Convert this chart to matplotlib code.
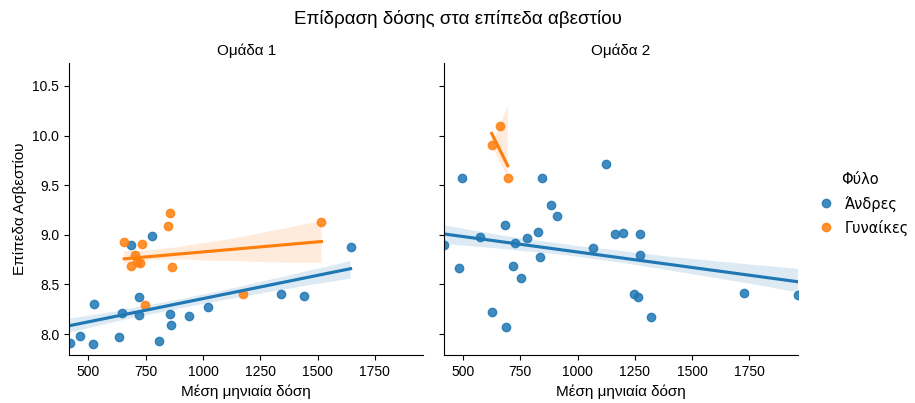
import numpy as np
import pandas as pd
import matplotlib
matplotlib.use("Agg")
import matplotlib.pyplot as plt
import seaborn as sns
from matplotlib.lines import Line2D

plt.rcParams['font.family'] = ['Liberation Sans', 'DejaVu Sans']

# Ομάδα 1
dose_g1_men = [420, 464, 519, 522, 635, 648, 686, 722, 722, 776, 808, 856,
               862, 940, 1022, 1339, 1440, 1644]
ca_g1_men = [7.91, 7.98, 7.905, 8.30, 7.97, 8.21, 8.895, 8.37, 8.19, 8.99,
             7.93, 8.20, 8.09, 8.18, 8.27, 8.40, 8.38, 8.88]
dose_g1_women = [656, 702, 686, 711, 733, 725, 747, 846, 856, 866, 1173, 1517]
ca_g1_women = [8.93, 8.80, 8.685, 8.73, 8.905, 8.72, 8.29, 9.09, 9.22, 8.68,
               8.40, 9.125]

# Ομάδα 2
dose_g2_men = [415, 481, 496, 576, 628, 685, 687, 719, 725, 751, 780, 828,
               837, 843, 882, 911, 1066, 1126, 1165, 1196, 1244, 1263, 1273,
               1272, 1320, 1728, 1962]
ca_g2_men = [8.90, 8.67, 9.575, 8.976, 8.22, 9.095, 8.075, 8.687, 8.915, 8.57,
             8.97, 9.03, 8.78, 9.57, 9.30, 9.19, 8.87, 9.71, 9.01, 9.02, 8.40,
             8.37, 9.01, 8.80, 8.17, 8.41, 8.39]
dose_g2_women = [625, 660, 695]
ca_g2_women = [9.90, 10.10, 9.575]

groups = ['Ομάδα 1', 'Ομάδα 2']
sexes = ['Άνδρες', 'Γυναίκες']
colors = ['#1f77b4', '#ff7f0e']

parts = []
for grp, sx, d, c in [
    (groups[0], sexes[0], dose_g1_men, ca_g1_men),
    (groups[0], sexes[1], dose_g1_women, ca_g1_women),
    (groups[1], sexes[0], dose_g2_men, ca_g2_men),
    (groups[1], sexes[1], dose_g2_women, ca_g2_women),
]:
    parts.append(pd.DataFrame({'dose': d, 'ca': c, 'group': grp, 'sex': sx}))
df = pd.concat(parts, ignore_index=True)

g = sns.lmplot(data=df, x='dose', y='ca', hue='sex', col='group',
               hue_order=sexes, col_order=groups, palette=colors,
               legend=False, height=4, aspect=1, ci=50, seed=3,
               scatter_kws={'alpha': 0.85})
g.set_titles("{col_name}", size=11)
g.set_axis_labels("Μέση μηνιαία δόση", "Επίπεδα Ασβεστίου", fontsize=11)
for ax in g.axes.flat:
    ax.set_xlim(415, 1962)
    ax.set_ylim(7.79, 10.73)
    ax.set_xticks([500, 750, 1000, 1250, 1500, 1750])
    ax.set_yticks([8.0, 8.5, 9.0, 9.5, 10.0, 10.5])
    ax.tick_params(labelsize=10)

fig = g.figure
fig.set_size_inches(9.15, 4.03)
fig.subplots_adjust(left=69 / 915, right=798 / 915, bottom=1 - 355 / 403,
                    top=1 - 63 / 403, wspace=0.057)
fig.suptitle("Επίδραση δόσης στα επίπεδα αβεστίου", fontsize=13.5, y=0.975)

handles = [Line2D([], [], ls='', marker='o', ms=6, color=c, alpha=0.85)
           for c in colors]
fig.legend(handles, sexes, title="Φύλο", loc='center left',
           bbox_to_anchor=(798 / 915, 1 - 204 / 403), frameon=False,
           handletextpad=0.3, labelspacing=0.55,
           prop={'family': 'DejaVu Sans', 'size': 10.5},
           title_fontproperties={'family': 'DejaVu Sans', 'size': 10.5})

fig.savefig("out.png", dpi=100)
